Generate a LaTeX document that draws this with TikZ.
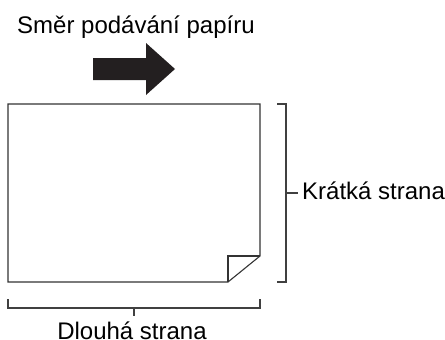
\documentclass[tikz,border=0pt]{standalone}
\usepackage{fontspec}
\setmainfont{Liberation Sans}
\usetikzlibrary{calc}
\tikzset{
  sheetln/.style={line width=1.1pt, draw=black!80, line join=miter},
  brackln/.style={line width=1.1pt, draw=black!75},
  lbl/.style={font=\fontsize{24}{28}\selectfont, inner sep=0pt},
}
\definecolor{arrowcolor}{RGB}{35,31,32}

\begin{document}
\begin{tikzpicture}[x=1pt,y=-1pt]
    \useasboundingbox (0,0) rectangle (445,340);
    % feed direction
    \node[lbl, anchor=base west] (title) at (17,33) {Směr podávání papíru};
    \fill[arrowcolor] (93,58) -- (146,58) -- (146,43) -- (175,69)
      -- (146,95) -- (146,80) -- (93,80) -- cycle;
    % sheet with folded corner
    \draw[sheetln] (8,104) -- (260,104) -- (260,256) -- (228,282)
      -- (8,282) -- cycle;
    \draw[sheetln] (228,282) -- (228,256) -- (260,256);
    % short side
    \draw[brackln] (277,104) -- (286,104) -- (286,282) -- (277,282);
    \coordinate (kmid) at (286,193);
    \node[lbl, anchor=base west] (kratka) at (302,199) {Krátká strana};
    \draw[brackln] (kmid) -- ($(kratka.west |- kmid)+(-4,0)$);
    % long side
    \draw[brackln] (8,299) -- (8,308) -- (260,308) -- (260,299);
    \coordinate (dmid) at (134,308);
    \node[lbl, anchor=base] (dlouha) at (132,339) {Dlouhá strana};
    \draw[brackln] (dmid) -- ++(0,8);
\end{tikzpicture}
\end{document}
